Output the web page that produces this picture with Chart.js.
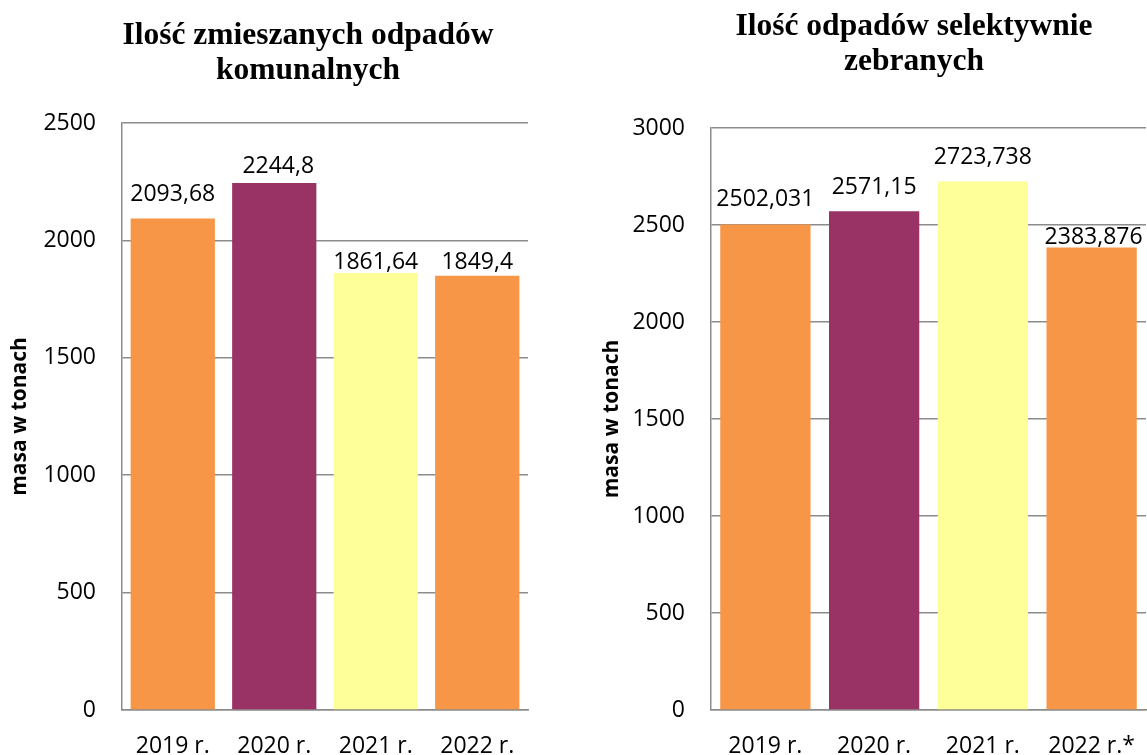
<!DOCTYPE html>
<html>
<head>
<meta charset="utf-8">
<script src="https://cdn.jsdelivr.net/npm/chart.js@4.4.0/dist/chart.umd.min.js"></script>
<style>
  html, body { margin: 0; padding: 0; background: #fff; overflow: hidden; width: 1147px; height: 755px; }
  canvas { position: absolute; top: 0; }
</style>
</head>
<body>
<canvas id="mixed" width="616" height="755" style="left:0"></canvas>
<canvas id="selective" width="688" height="755" style="left:570px"></canvas>
<script>
// data
const yearsMixed = ['2019 r.', '2020 r.', '2021 r.', '2022 r.'];
const mixedTons = [2093.68, 2244.8, 1861.64, 1849.4];
const mixedTicks = [0, 500, 1000, 1500, 2000, 2500];

const yearsSelective = ['2019 r.', '2020 r.', '2021 r.', '2022 r.*'];
const selectiveTons = [2502.031, 2571.15, 2723.738, 2383.876];
const selectiveTicks = [0, 500, 1000, 1500, 2000, 2500, 3000];

const barColors = ['#F79646', '#993366', '#FFFF99', '#F79646'];
const gridGray = '#8c8c8c';

Chart.defaults.font.family = '"Open Sans", sans-serif';
Chart.defaults.color = '#000';

// value labels above bars (Excel style, decimal comma)
const valueLabels = {
  id: 'valueLabels',
  afterLayout(chart) {
    // center the title over the whole canvas, not only the padded area
    if (chart.titleBlock) chart.titleBlock.right = chart.width;
  },
  afterDatasetsDraw(chart, args, opts) {
    const ctx = chart.ctx;
    const meta = chart.getDatasetMeta(0);
    const values = chart.data.datasets[0].data;
    ctx.save();
    ctx.font = '23px "Open Sans"';
    ctx.fillStyle = '#000';
    ctx.textAlign = 'center';
    ctx.textBaseline = 'middle';
    meta.data.forEach((bar, i) => {
      ctx.fillText(String(values[i]).replace('.', ','), bar.x + (opts.dx[i] || 0), bar.y - opts.gaps[i]);
    });
    ctx.restore();
  }
};

function makeChart(id, labels, values, ticks, cfg) {
  return new Chart(document.getElementById(id), {
    type: 'bar',
    data: {
      labels: labels,
      datasets: [{
        data: values,
        backgroundColor: barColors,
        borderWidth: 0,
        categoryPercentage: 1,
        barPercentage: 0.83
      }]
    },
    options: {
      responsive: false,
      animation: false,
      layout: { padding: { left: 0, right: cfg.padRight, top: 0, bottom: 0 } },
      plugins: {
        legend: { display: false },
        tooltip: { enabled: false },
        title: {
          display: true,
          text: cfg.title,
          color: '#000',
          font: { family: '"Liberation Serif", "Times New Roman", serif', size: 31.5, weight: 'bold', lineHeight: 1.111 },
          padding: { top: cfg.titleTop, bottom: cfg.titleBottom }
        },
        valueLabels: { gaps: cfg.gaps, dx: cfg.dx }
      },
      scales: {
        x: {
          grid: { display: false, drawTicks: false },
          border: { display: true, color: gridGray, width: 1.5 },
          ticks: { font: { size: 23 }, padding: 23, color: '#000' },
          afterFit: (s) => { s.height = 45; }
        },
        y: {
          min: ticks[0],
          max: ticks[ticks.length - 1],
          afterBuildTicks: (s) => { s.ticks = ticks.map(v => ({ value: v })); },
          grid: { color: gridGray, lineWidth: 1.5, drawTicks: false },
          border: { display: true, color: gridGray, width: 1.5 },
          ticks: { font: { size: 23 }, padding: 26, color: '#000', callback: (v) => String(v) },
          title: {
            display: true,
            text: 'masa w tonach',
            color: '#000',
            font: { size: 21, weight: 'bold', lineHeight: 1.2 },
            padding: { top: cfg.yTitlePad, bottom: 0 }
          },
          afterFit: (s) => { s.width = cfg.axisWidth; }
        }
      }
    },
    plugins: [valueLabels]
  });
}

makeChart('mixed', yearsMixed, mixedTons, mixedTicks, {
  title: ['Ilość zmieszanych odpadów', 'komunalnych'],
  padRight: 88, titleTop: 18.5, titleBottom: 34.5,
  axisWidth: 122, yTitlePad: 7,
  gaps: [24, 16, 10, 13], dx: [0, 4, 0, 0]
});

makeChart('selective', yearsSelective, selectiveTons, selectiveTicks, {
  title: ['Ilość odpadów selektywnie', 'zebranych'],
  padRight: 112, titleTop: 9.5, titleBottom: 48.5,
  axisWidth: 141, yTitlePad: 29,
  gaps: [25, 24, 24, 10], dx: [0, 0, 0, 2]
});
</script>
</body>
</html>
